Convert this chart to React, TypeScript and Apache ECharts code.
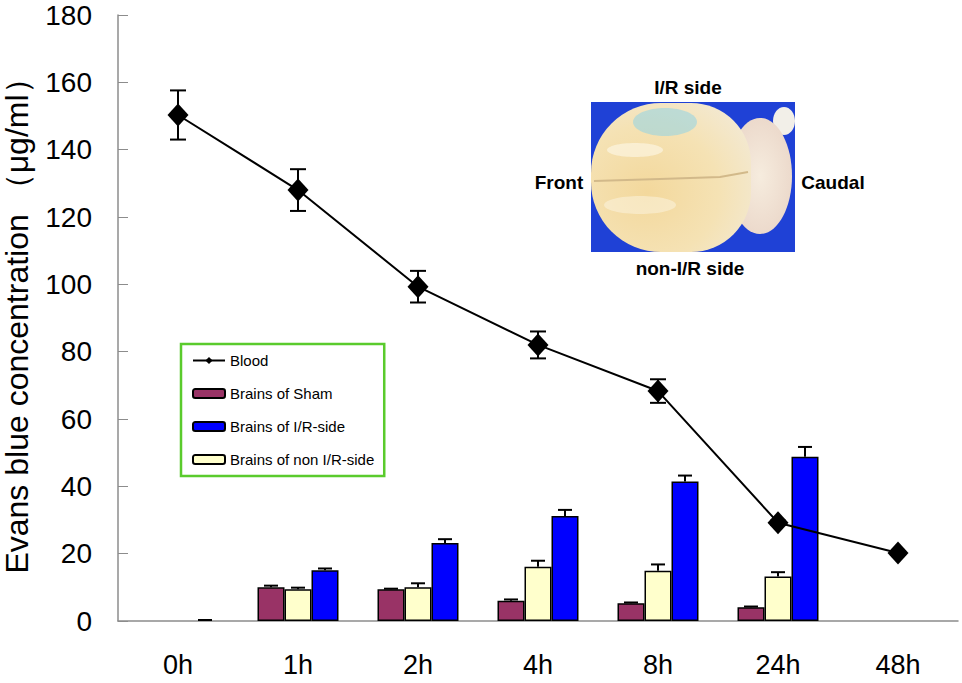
import React, { useEffect, useRef } from 'react';
import * as echarts from 'echarts';

const categories = ['0h', '1h', '2h', '4h', '8h', '24h', '48h'];
const yTicks = { min: 0, max: 180, interval: 20 };

const bloodValues = [150.3, 128, 99.3, 82, 68.3, 29.2, 20.2];
const bloodErr = [7.3, 6.2, 4.7, 4, 3.5, 0.6, 0.5];

const shamValues: (number | null)[] = [0, 10, 9.4, 6, 5.3, 4.1, null];
const shamErr: (number | null)[] = [0, 0.5, 0.2, 0.4, 0.2, 0.2, null];

const nonValues: (number | null)[] = [0, 9.4, 10, 16.1, 14.9, 13.2, null];
const nonErr: (number | null)[] = [0, 0.5, 1.2, 1.8, 1.9, 1.3, null];

const irValues: (number | null)[] = [0, 15.1, 23.2, 31.2, 41.4, 48.8, null];
const irErr: (number | null)[] = [0.3, 0.5, 1.1, 1.8, 1.8, 2.9, null];

const seriesNames = ['Blood', 'Brains of Sham', 'Brains of I/R-side', 'Brains of non I/R-side'];

const FONT = 'Arial, "Liberation Sans", Helvetica, sans-serif';
const BAR_W = 27;

function barData(vals: (number | null)[]) {
  return vals.map((v) => (v === null || v === 0 ? '-' : v));
}

function errData(vals: (number | null)[], errs: (number | null)[]) {
  const out: number[][] = [];
  vals.forEach((v, i) => {
    const e = errs[i];
    if (v === null || e === null) return;
    if (v === 0 && e === 0) return;
    out.push([i, v, e]);
  });
  return out;
}

function barErrSeries(vals: (number | null)[], errs: (number | null)[], slot: number) {
  return {
    type: 'custom',
    coordinateSystem: 'cartesian2d',
    z: 3,
    silent: true,
    encode: { x: 0, y: 1 },
    data: errData(vals, errs),
    renderItem: (params: any, api: any) => {
      const i = api.value(0);
      const v = api.value(1);
      const e = api.value(2);
      const base = api.coord([i, v]);
      const top = api.coord([i, v + e]);
      const x = base[0] + slot * BAR_W;
      const style = { stroke: '#000', lineWidth: 2 };
      return {
        type: 'group',
        children: [
          { type: 'line', shape: { x1: x, y1: base[1], x2: x, y2: top[1] }, style },
          { type: 'line', shape: { x1: x - 7, y1: top[1], x2: x + 7, y2: top[1] }, style },
        ],
      };
    },
  };
}

export default function App() {
  const ref = useRef<HTMLDivElement>(null);

  useEffect(() => {
    document.body.style.margin = '0';
    const chart = echarts.init(ref.current!, null, { renderer: 'svg' });

    const option: any = {
      animation: false,
      backgroundColor: '#ffffff',
      textStyle: { fontFamily: FONT },
      grid: { left: 118, right: 4, top: 15, bottom: 62, containLabel: false, outerBoundsMode: 'none' },
      legend: {
        orient: 'vertical',
        left: 181,
        top: 344,
        padding: [9, 10, 9, 11],
        borderColor: '#5acb2c',
        borderWidth: 2.5,
        itemWidth: 32,
        itemHeight: 9,
        itemGap: 18,
        selectedMode: false,
        textStyle: { fontSize: 15, color: '#000', fontFamily: FONT, lineHeight: 14 },
        data: seriesNames,
      },
      xAxis: {
        type: 'category',
        data: categories,
        boundaryGap: true,
        axisLine: { lineStyle: { color: '#8c8c8c', width: 1.5 } },
        axisTick: { inside: true, length: 10, lineStyle: { color: '#8c8c8c', width: 1 } },
        axisLabel: { fontSize: 27, color: '#000', margin: 30, fontFamily: FONT },
        splitLine: { show: false },
      },
      yAxis: {
        type: 'value',
        min: yTicks.min,
        max: yTicks.max,
        interval: yTicks.interval,
        name: 'Evans blue concentration （μg/ml）',
        nameLocation: 'middle',
        nameGap: 85,
        nameTextStyle: { fontSize: 32, lineHeight: 32, color: '#000', fontFamily: FONT },
        axisLine: { show: true, lineStyle: { color: '#8c8c8c', width: 1.5 } },
        axisTick: { show: true, inside: true, length: 10, lineStyle: { color: '#8c8c8c', width: 1 } },
        axisLabel: { fontSize: 28, color: '#000', margin: 26, fontFamily: FONT },
        splitLine: { show: false },
      },
      graphic: [
        { type: 'rect', shape: { x: 591, y: 102, width: 204, height: 150 }, style: { fill: '#1f41d6' }, z: 1 },
        { type: 'ellipse', shape: { cx: 784, cy: 121, rx: 11, ry: 14 }, style: { fill: '#f2efe8' }, z: 2 },
        {
          type: 'ellipse',
          shape: { cx: 760, cy: 176, rx: 32, ry: 58 },
          style: {
            fill: new echarts.graphic.RadialGradient(0.5, 0.5, 0.6, [
              { offset: 0, color: '#f6ecde' },
              { offset: 1, color: '#ead6c8' },
            ]),
          },
          z: 2,
        },
        {
          type: 'rect',
          shape: { x: 591, y: 103, width: 160, height: 149, r: [70, 60, 60, 70] },
          style: {
            fill: new echarts.graphic.RadialGradient(0.35, 0.6, 0.75, [
              { offset: 0, color: '#f3d89c' },
              { offset: 0.6, color: '#f5e2b4' },
              { offset: 1, color: '#f3e9d2' },
            ]),
          },
          z: 3,
        },
        { type: 'ellipse', shape: { cx: 665, cy: 122, rx: 32, ry: 14 }, style: { fill: '#8fd3e6', opacity: 0.55 }, z: 4 },
        { type: 'ellipse', shape: { cx: 635, cy: 150, rx: 28, ry: 7 }, style: { fill: '#fdf8ea', opacity: 0.6 }, z: 4 },
        { type: 'ellipse', shape: { cx: 640, cy: 205, rx: 36, ry: 9 }, style: { fill: '#fdf8ea', opacity: 0.45 }, z: 4 },
        {
          type: 'polyline',
          shape: { points: [[594, 181], [660, 179], [720, 177], [748, 172]] },
          style: { stroke: '#d2b98a', lineWidth: 2, fill: 'none' },
          z: 5,
        },
        {
          type: 'text',
          x: 688,
          y: 87,
          style: { text: 'I/R side', font: `bold 19px ${FONT}`, fill: '#000', align: 'center', verticalAlign: 'middle' },
          z: 6,
        },
        {
          type: 'text',
          x: 559,
          y: 182,
          style: { text: 'Front', font: `bold 19px ${FONT}`, fill: '#000', align: 'center', verticalAlign: 'middle' },
          z: 6,
        },
        {
          type: 'text',
          x: 833,
          y: 182,
          style: { text: 'Caudal', font: `bold 19px ${FONT}`, fill: '#000', align: 'center', verticalAlign: 'middle' },
          z: 6,
        },
        {
          type: 'text',
          x: 690,
          y: 268,
          style: { text: 'non-I/R side', font: `bold 19px ${FONT}`, fill: '#000', align: 'center', verticalAlign: 'middle' },
          z: 6,
        },
      ],
      series: [
        {
          name: 'Brains of Sham',
          type: 'bar',
          barWidth: BAR_W,
          barGap: '0%',
          data: barData(shamValues),
          itemStyle: { color: '#993366', borderColor: '#000', borderWidth: 1.5 },
          z: 2,
        },
        {
          name: 'Brains of non I/R-side',
          type: 'bar',
          barWidth: BAR_W,
          barGap: '0%',
          data: barData(nonValues),
          itemStyle: { color: '#ffffcc', borderColor: '#000', borderWidth: 1.5 },
          z: 2,
        },
        {
          name: 'Brains of I/R-side',
          type: 'bar',
          barWidth: BAR_W,
          barGap: '0%',
          data: barData(irValues),
          itemStyle: { color: '#0000ff', borderColor: '#000', borderWidth: 1.5 },
          z: 2,
        },
        barErrSeries(shamValues, shamErr, -1),
        barErrSeries(nonValues, nonErr, 0),
        barErrSeries(irValues, irErr, 1),
        {
          type: 'custom',
          coordinateSystem: 'cartesian2d',
          z: 4,
          silent: true,
          encode: { x: 0, y: 1 },
          data: bloodValues.map((v, i) => [i, v, bloodErr[i]]),
          renderItem: (params: any, api: any) => {
            const i = api.value(0);
            const v = api.value(1);
            const e = api.value(2);
            const hi = api.coord([i, v + e]);
            const lo = api.coord([i, v - e]);
            const x = hi[0];
            const style = { stroke: '#000', lineWidth: 2 };
            return {
              type: 'group',
              children: [
                { type: 'line', shape: { x1: x, y1: lo[1], x2: x, y2: hi[1] }, style },
                { type: 'line', shape: { x1: x - 8, y1: hi[1], x2: x + 8, y2: hi[1] }, style },
                { type: 'line', shape: { x1: x - 8, y1: lo[1], x2: x + 8, y2: lo[1] }, style },
              ],
            };
          },
        },
        {
          name: 'Blood',
          type: 'line',
          data: bloodValues,
          symbol: 'diamond',
          symbolSize: [21, 23],
          lineStyle: { color: '#000', width: 2 },
          itemStyle: { color: '#000' },
          z: 5,
        },
      ],
    };

    chart.setOption(option);
    return () => chart.dispose();
  }, []);

  return <div ref={ref} style={{ width: 962, height: 683 }} />;
}
